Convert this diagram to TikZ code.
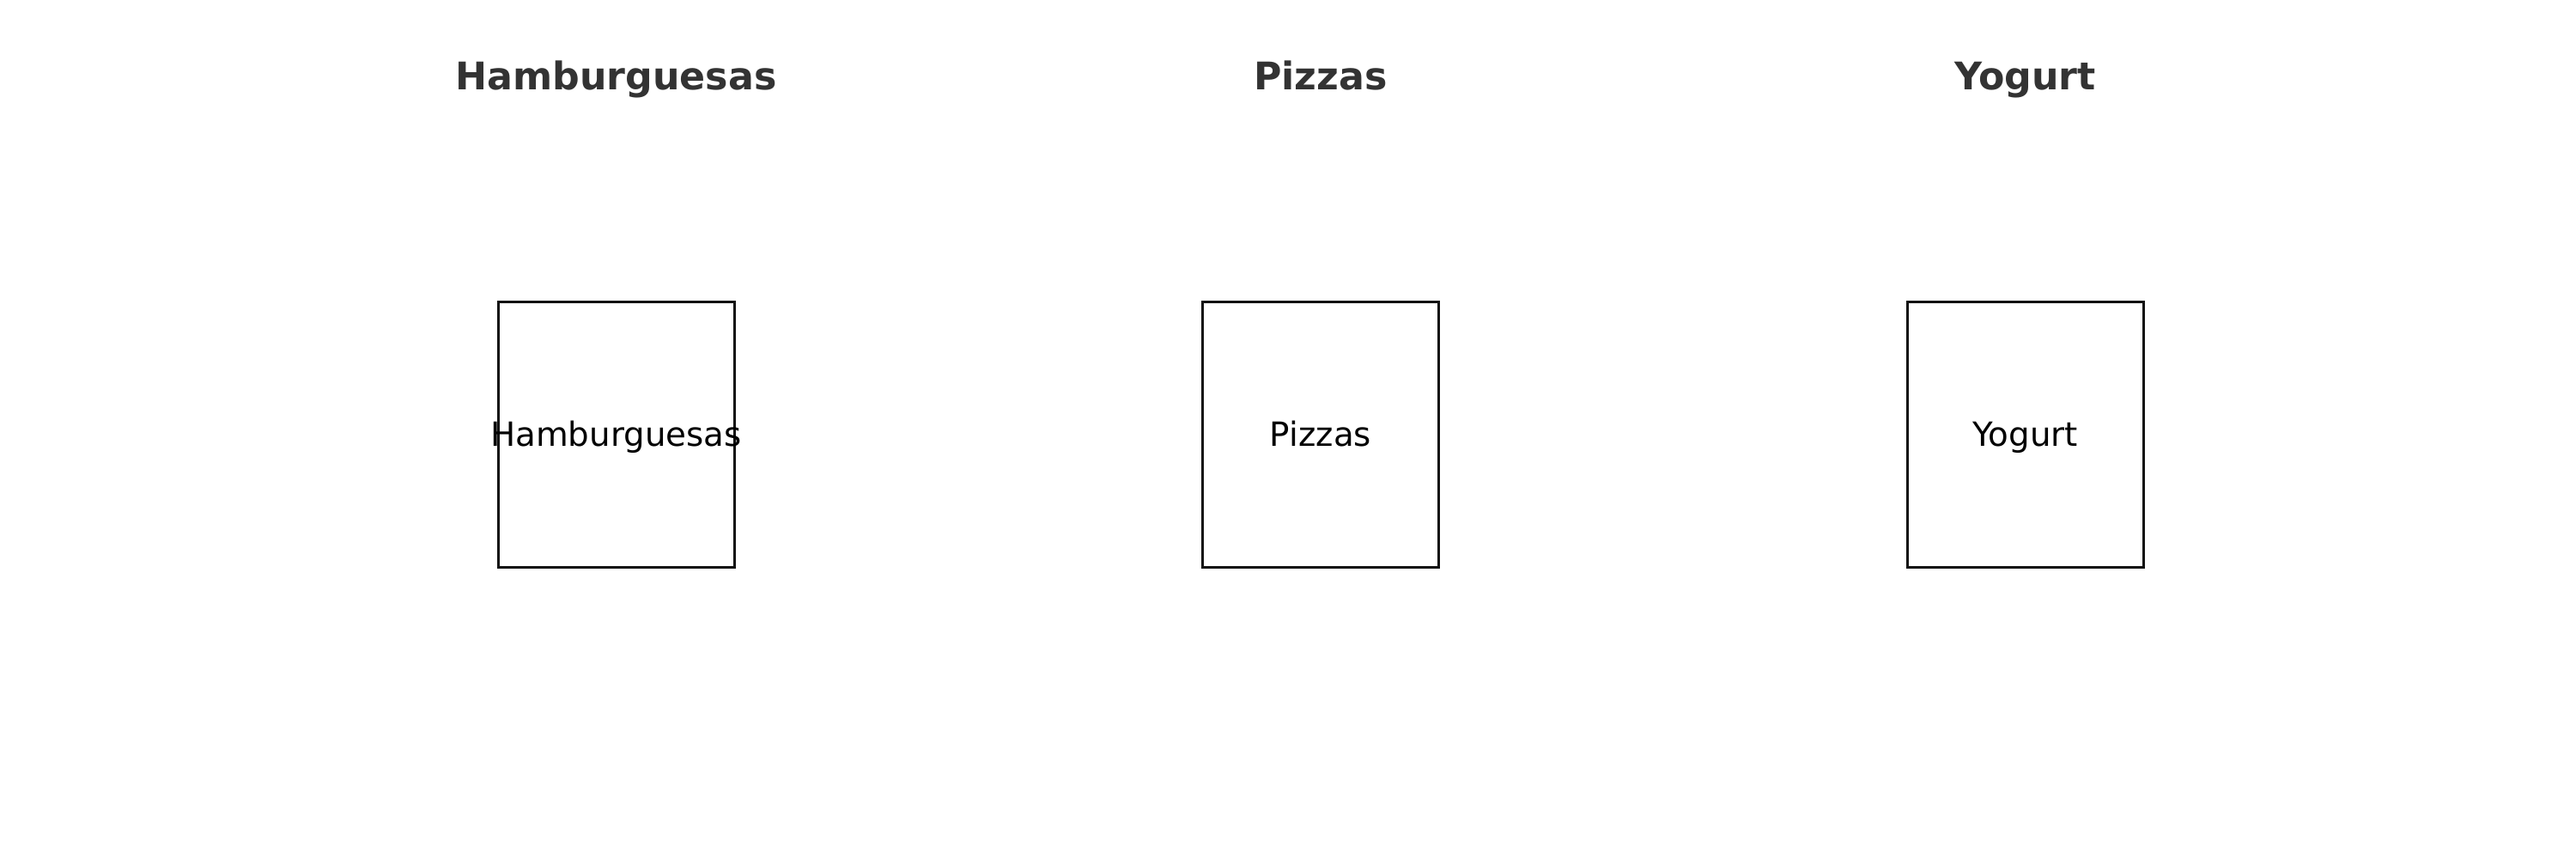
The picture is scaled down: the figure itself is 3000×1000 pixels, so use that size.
\documentclass[tikz,border=0pt]{standalone}
\usepackage{fontspec}
\setmainfont{DejaVu Sans}
\definecolor{titlegray}{HTML}{333333}
\definecolor{boxline}{HTML}{111111}
\tikzset{
  box/.style={draw=boxline, line width=3pt, minimum width=275pt, minimum height=309pt, inner sep=0pt},
  title/.style={anchor=base, text=titlegray, font=\fontsize{44.3}{53}\selectfont\bfseries, inner sep=0pt},
  inner/.style={anchor=base, text=black, font=\fontsize{38.8}{47}\selectfont, inner sep=0pt}
}
\begin{document}
\begin{tikzpicture}[x=1pt,y=-1pt]
\useasboundingbox (0,0) rectangle (3000,1000);
\fill[white] (0,0) rectangle (3000,1000);
\node[box] (b1) at (717.5,505.5) {};
\node[box] (b2) at (1538,505.5) {};
\node[box] (b3) at (2358.5,505.5) {};
\node[inner] (l1) at (717.5,519) {Hamburguesas};
\node[inner] (l2) at (1538,519) {Pizzas};
\node[inner] (l3) at (2358.5,519) {Yogurt};
\node[title] (t1) at (717.5,105) {Hamburguesas};
\node[title] (t2) at (1538,105) {Pizzas};
\node[title] (t3) at (2358.5,105) {Yogurt};
\end{tikzpicture}
\end{document}
